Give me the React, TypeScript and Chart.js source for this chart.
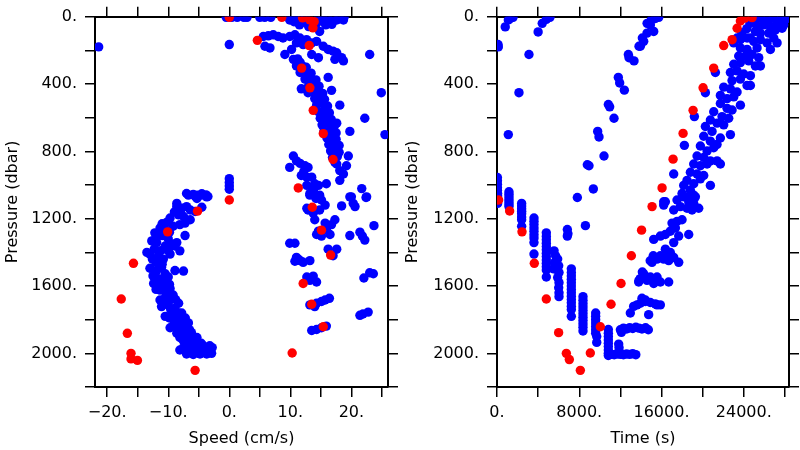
import React, { useEffect, useRef } from "react";
import { Chart, registerables } from "chart.js";

Chart.register(...registerables);

const FONT = "'DejaVu Sans', sans-serif";

// ---------- tick values ----------
const speedTicks = [-20, -15, -10, -5, 0, 5, 10, 15, 20, 25];
const speedLabelled = [-20, -10, 0, 10, 20];
const timeTicks = [0, 4000, 8000, 12000, 16000, 20000, 24000, 28000];
const timeLabelled = [0, 8000, 16000, 24000];
const pressureTicks = [0, 200, 400, 600, 800, 1000, 1200, 1400, 1600, 1800, 2000, 2200];
const pressureLabelled = [0, 400, 800, 1200, 1600, 2000];

// ---------- Left panel: Speed (cm/s) vs Pressure (dbar) ----------
const speedRed: [number, number][] = [
  [0, 3], [8.6, 3], [12.0, 6], [13.2, 19], [13.9, 29], [13.7, 66], [4.6, 140], [13.1, 171],
  [11.85, 305], [13.2, 422], [13.75, 556], [15.4, 694], [17.0, 848], [11.3, 1017], [0.0, 1089],
  [13.6, 1132], [-5.2, 1155], [15.1, 1268], [-10.1, 1278], [16.6, 1416], [-15.7, 1465],
  [12.1, 1585], [-17.7, 1677], [13.5, 1708], [15.4, 1842], [-16.7, 1881], [10.3, 1998],
  [-16.1, 2000], [-16.1, 2033], [-15.05, 2042], [-5.6, 2101],
];

const speedBlueTop: [number, number][] = [
  [-0.5, 3], [0.4, 3], [1.3, 3], [2.4, 3], [2.9, 3], [5.0, 3], [5.8, 3], [6.8, 3], [9.9, 3],
  [10.6, 3], [11.3, 5], [12.5, 5], [14.6, 3], [15.3, 5], [16.1, 3], [17.0, 3], [18.0, 5], [18.8, 3],
  [9.9, 19], [11.0, 19], [12.1, 29], [14.3, 39], [15.4, 29], [16.5, 29], [17.6, 19], [18.7, 19],
  [10.6, 29], [12.7, 39], [14.8, 87], [13.0, 58], [15.8, 48], [16.8, 45], [11.5, 48],
];

const speedBlueUpper: [number, number][] = [
  [5.57, 117], [6.39, 113], [7.2, 107], [8.0, 117], [8.8, 126], [9.9, 117], [10.75, 107],
  [11.57, 126], [12.66, 136], [13.48, 155], [14.3, 146], [15.4, 175], [16.2, 194], [17.0, 204],
  [17.6, 214], [5.84, 175], [6.66, 185], [9.1, 224], [10.2, 194], [11.0, 155], [12.1, 165],
  [13.5, 224], [14.6, 243], [17.3, 253], [18.4, 243], [18.7, 262], [0.0, 165], [-21.4, 179],
  [23.0, 224], [24.9, 451], [25.5, 700], [22.2, 603], [19.75, 681],
];

const speedBlueBand: [number, number][] = [
  [10.5, 253], [11.2, 250], [11.6, 270], [11.0, 292], [11.9, 290], [12.6, 300], [11.6, 331],
  [12.5, 320], [13.4, 335], [12.4, 370], [13.3, 360], [14.2, 375], [13.0, 408], [13.9, 400],
  [14.7, 412], [13.8, 447], [14.6, 440], [15.3, 455], [14.0, 486], [14.9, 480], [15.6, 490],
  [14.3, 525], [15.2, 515], [16.1, 530], [14.6, 564], [15.5, 560], [16.4, 570], [14.9, 603],
  [15.8, 595], [16.7, 610], [15.2, 642], [16.2, 635], [17.2, 650], [15.5, 681], [16.5, 675],
  [17.5, 690], [16.0, 720], [16.8, 712], [17.5, 728], [16.3, 759], [17.2, 752], [18.0, 765],
  [16.6, 797], [17.4, 790], [18.0, 805], [16.9, 836], [17.7, 830], [17.3, 865],
  [11.8, 428], [12.9, 451], [16.2, 360], [16.75, 437], [18.1, 525], [17.6, 632],
  [19.5, 827], [19.2, 885], [18.1, 914],
];

const speedBlueLower: [number, number][] = [
  [10.5, 827], [11.0, 856], [11.6, 871], [9.9, 895], [12.4, 885], [12.9, 895], [11.8, 943],
  [12.7, 953], [13.5, 953], [14.0, 992], [14.6, 1002], [12.7, 1002], [15.9, 992], [13.2, 1050],
  [14.8, 1060], [18.7, 934], [18.1, 972], [20.0, 1070], [21.7, 1021], [22.5, 1070], [17.6, 875],
  [12.2, 920], [13.8, 1030], [14.2, 1080],
  [13.2, 1060], [14.3, 1070], [15.1, 1089], [15.7, 1119], [14.8, 1148], [13.75, 1167],
  [12.9, 1148], [14.0, 1206], [12.7, 1138], [19.75, 1070], [20.3, 1109], [20.6, 1128],
  [22.4, 1074], [18.4, 1124], [15.7, 1226], [16.75, 1235], [17.3, 1206], [15.9, 1264],
  [16.5, 1294], [15.1, 1303], [14.3, 1294], [14.6, 1274], [19.75, 1300], [21.4, 1280],
  [21.8, 1303], [22.2, 1327], [23.7, 1241], [9.9, 1346], [10.75, 1346], [16.2, 1381],
  [17.6, 1381], [17.0, 1420], [11.0, 1430], [10.75, 1453], [11.6, 1449], [12.1, 1459],
  [13.2, 1449], [11.3, 1440], [12.7, 1546], [13.75, 1541], [14.3, 1576], [13.2, 1566],
  [22.05, 1552], [23.0, 1521], [23.6, 1527], [13.2, 1712], [14.3, 1702], [15.1, 1692],
  [15.7, 1683], [16.4, 1673], [14.0, 1722], [21.4, 1774], [21.9, 1766], [22.75, 1755],
  [13.5, 1864], [14.3, 1858], [15.1, 1848], [15.9, 1838],
];

const speedBlueArc: [number, number][] = [
  [0.0, 962], [0.0, 985], [0.0, 1005], [0.0, 1025],
  [-7.0, 1050], [-5.9, 1055], [-5.2, 1060], [-4.5, 1052], [-3.8, 1058], [-3.5, 1068], [-8.6, 1109],
  [-6.7, 1060], [-5.6, 1066], [-4.5, 1060], [-3.7, 1070], [-5.3, 1080],
  [-8.6, 1128], [-7.8, 1138], [-7.0, 1128], [-6.4, 1148], [-5.6, 1157], [-4.5, 1132],
  [-9.7, 1196], [-8.3, 1177], [-7.5, 1187], [-6.4, 1206],
  [-11.35, 1255], [-12.2, 1284], [-10.5, 1264], [-9.2, 1245], [-8.1, 1235], [-7.25, 1226],
  [-12.7, 1332], [-11.9, 1342], [-10.5, 1362], [-9.4, 1352], [-8.6, 1342], [-8.1, 1391], [-7.25, 1300],
  [-13.0, 1410], [-11.6, 1420], [-10.8, 1440], [-9.7, 1410], [-8.9, 1362],
  [-13.0, 1494], [-11.9, 1508], [-11.1, 1488], [-10.5, 1527], [-8.9, 1508], [-7.5, 1511],
  [-12.4, 1585], [-11.6, 1556], [-10.5, 1566], [-10.0, 1546],
  [-11.35, 1624], [-10.5, 1634], [-9.7, 1615], [-9.2, 1653], [-11.35, 1683],
  [-11.1, 1722], [-10.0, 1712], [-8.9, 1731], [-8.3, 1702],
  [-10.5, 1780], [-9.4, 1770], [-8.6, 1790], [-7.8, 1760],
  [-9.7, 1848], [-8.6, 1838], [-7.5, 1828], [-6.7, 1819], [-8.1, 1867],
  [-8.1, 1906], [-7.0, 1887], [-6.2, 1877], [-5.3, 1906], [-7.25, 1945],
  [-7.5, 1965], [-6.4, 1945], [-5.3, 1965], [-4.25, 1955], [-3.2, 1955],
  [-7.0, 2004], [-5.9, 2007], [-4.8, 2004], [-3.7, 2004], [-2.9, 2000], [-6.4, 1984],
  [-12.0, 1460], [-11.0, 1470], [-12.5, 1540], [-11.2, 1600], [-10.2, 1650], [-10.0, 1690],
  [-9.6, 1740], [-9.0, 1800], [-8.0, 1810], [-7.6, 1850], [-6.8, 1900], [-6.0, 1930],
  [-5.0, 1985], [-4.2, 1990], [-2.8, 1966], [-9.8, 1590], [-8.8, 1680], [-8.3, 1760],
  [-7.2, 1790], [-6.5, 1860], [-5.6, 1920], [-4.6, 1940], [-13.5, 1400], [-12.6, 1440],
  [-9.0, 1160], [-8.0, 1165], [-10.2, 1220], [-11.0, 1230], [-12.0, 1310], [-11.0, 1300],
  [-10.0, 1320], [-9.8, 1280], [-12.3, 1380], [-11.2, 1390], [-10.0, 1390], [-12.0, 1620],
  [-10.8, 1600], [-10.8, 1680], [-9.6, 1680], [-9.8, 1790], [-9.1, 1830], [-8.6, 1880],
  [-7.6, 1920], [-6.2, 1960], [-8.1, 1980], [-5.2, 1940], [-4.0, 1975], [-3.4, 1985],
];

// ---------- Right panel: Time (s) vs Pressure (dbar) ----------
const timeRed: [number, number][] = [
  [24807, 5], [24100, 8], [23672, 25], [23352, 68], [22866, 136], [22049, 171], [21076, 305],
  [20044, 422], [19071, 556], [18098, 693], [17125, 846], [16055, 1017], [15082, 1128],
  [14060, 1268], [13068, 1420], [12065, 1585], [11092, 1708], [10051, 1842], [9078, 1998],
  [8105, 2101], [7035, 2037], [6743, 2000], [5994, 1877], [4797, 1677], [3629, 1465],
  [2432, 1278], [1229, 1154], [156, 1089],
];

const timeBlueEarly: [number, number][] = [
  [800, 60], [1100, 19], [1300, 10], [1560, 3], [4000, 90], [4400, 39], [4800, 15], [5150, 3],
  [127, 179], [100, 165], [3110, 224], [2137, 451], [1100, 700],
  [40, 955], [40, 975], [40, 995], [40, 1015], [40, 1031],
  [60, 1050], [60, 1065], [60, 1080], [60, 1095], [60, 1109],
  [1165, 1040], [1165, 1055], [1165, 1070], [1165, 1085], [1165, 1100], [1165, 1115], [1165, 1128],
  [2397, 1109], [2397, 1125], [2397, 1140], [2397, 1155], [2397, 1170], [2397, 1190], [2397, 1206], [2397, 1245],
  [3597, 1196], [3597, 1215], [3597, 1235], [3597, 1255], [3597, 1275], [3597, 1295], [3597, 1315], [3597, 1342], [3597, 1410],
  [4797, 1284], [4797, 1305], [4797, 1325], [4797, 1345], [4797, 1365], [4797, 1385], [4797, 1405],
  [4797, 1425], [4797, 1445], [4797, 1465], [4797, 1485], [4797, 1505], [4797, 1546],
  [5550, 1391], [5700, 1420], [5600, 1460], [5900, 1440], [6000, 1480], [5750, 1500], [6030, 1520],
  [5900, 1550], [6030, 1580], [6000, 1610], [6030, 1640], [6030, 1663], [5510, 1498], [5650, 1470],
  [6840, 1264], [6900, 1290], [6840, 1303],
  [7229, 1498], [7229, 1520], [7229, 1540], [7229, 1560], [7229, 1580], [7229, 1600], [7229, 1620],
  [7229, 1640], [7229, 1660], [7229, 1680], [7229, 1700], [7229, 1720], [7229, 1740], [7229, 1780],
  [8364, 1663], [8364, 1685], [8364, 1705], [8364, 1725], [8364, 1745], [8364, 1765], [8364, 1785],
  [8364, 1805], [8364, 1825], [8364, 1845], [8364, 1867],
  [9596, 1760], [9596, 1780], [9596, 1800], [9596, 1820], [9596, 1840], [9596, 1860], [9596, 1880],
  [9700, 1900], [9700, 1935],
  [10829, 1858], [10829, 1880], [10829, 1900], [10829, 1920], [10829, 1940], [10829, 1960],
  [10829, 1980], [10829, 2000], [10829, 2013],
];

const timeBlueMiddle: [number, number][] = [
  [15403, 10], [15730, 3], [15000, 20], [14916, 48], [14600, 39], [14592, 97], [14267, 146],
  [15240, 87], [13943, 175], [13812, 175], [14137, 126], [12774, 224], [12840, 243], [13326, 262],
  [11800, 360], [11931, 393], [12385, 436], [10829, 521], [10958, 535], [11380, 603], [9791, 681],
  [9920, 714], [10407, 827], [8786, 879], [8948, 885], [9369, 1023], [7813, 1074], [8600, 1241],
];

const timeBlueRise: [number, number][] = [
  [11100, 2005], [11400, 2008], [11700, 2004], [12000, 2006], [12300, 2008], [12600, 2004],
  [12900, 2006], [13200, 2002], [13500, 2008], [11833, 1945], [11867, 1965], [11867, 1985],
  [12000, 1860], [12300, 1850], [12600, 1855], [12900, 1848], [13200, 1852], [13500, 1845],
  [13800, 1850], [14100, 1855], [14450, 1848], [14720, 1860], [12100, 1875],
  [12968, 1760], [13290, 1721], [13940, 1702], [14425, 1692], [14914, 1698], [15400, 1706],
  [15886, 1712], [14750, 1770], [13617, 1712], [14100, 1673], [14430, 1683], [15565, 1712],
  [14267, 1527], [14916, 1546], [15565, 1546], [15889, 1576], [16700, 1576], [15240, 1585],
  [14592, 1566], [13943, 1556], [13779, 1576], [13812, 1566], [14137, 1517],
  [15889, 1420], [16375, 1381], [16862, 1401], [17186, 1430], [16700, 1449], [15565, 1440],
  [15078, 1459], [17673, 1459], [16213, 1440], [16537, 1410], [14900, 1450], [15200, 1420],
  [17024, 1226], [17510, 1216], [17997, 1206], [17348, 1255], [16862, 1274], [16375, 1294],
  [15889, 1303], [15240, 1323], [17673, 1303], [18646, 1294], [17186, 1342],
  [16213, 1119], [17186, 1148], [17835, 1128], [18159, 1070], [18808, 1080], [19294, 1070],
  [19618, 1138], [18970, 1148], [18484, 1138], [18646, 1099], [19130, 1109],
];

const timeBlueBand: [number, number][] = [
  [24970, 19], [25618, 10], [26266, 19], [26915, 10], [27564, 19], [28213, 10], [25293, 58],
  [25942, 48], [26591, 58], [27240, 39], [27888, 48], [25131, 87], [25618, 97], [26429, 97],
  [27078, 78], [27726, 68], [24645, 126],
  [23672, 136], [24321, 126], [24970, 146], [25618, 136], [26266, 155], [26915, 126], [23672, 185],
  [24321, 194], [25294, 185], [26591, 194], [27240, 155], [23510, 233], [24159, 233], [24808, 224],
  [25456, 243], [23024, 282], [23672, 272], [24483, 262], [25132, 292], [25618, 292], [22700, 331],
  [23348, 321], [23997, 340], [24646, 350], [22862, 379], [23672, 370], [24321, 408], [22051, 418],
  [22700, 428], [23348, 447], [24646, 408], [21726, 467], [22375, 486], [23024, 476], [23672, 525],
  [21726, 515], [22375, 544], [22862, 554], [21078, 564], [21888, 593], [22537, 603], [20753, 613],
  [21402, 632], [22051, 642], [22700, 700], [20267, 652], [20916, 681], [21726, 720], [20105, 710],
  [20753, 739], [21402, 759], [19780, 768], [20429, 797], [21078, 778], [19456, 827], [20105, 836],
  [20753, 856], [19132, 875], [19780, 885], [20429, 875], [21726, 875], [18808, 924], [19456, 934],
  [20105, 943], [18483, 972], [19132, 992], [19780, 963], [18159, 1002], [18808, 1031], [20753, 1002],
  [17997, 1050], [18483, 1070], [19132, 1060], [17510, 1089], [16375, 1099], [21402, 856],
  [21240, 331], [20267, 451], [19197, 593], [18224, 764], [17186, 934], [16213, 1099],
  [23348, 126], [23024, 155], [23800, 95], [24300, 70], [24600, 40],
];

// ---------- chart builder ----------
type Pt = [number, number];

const toXY = (arr: Pt[]) => arr.map(([x, y]) => ({ x, y }));

function fitSize(size: number) {
  return (scale: any) => {
    if (scale.isHorizontal()) scale.height = size;
    else scale.width = size;
  };
}

function setTicks(values: number[]) {
  return (scale: any) => {
    scale.ticks = values.map((value) => ({ value }));
  };
}

const tickGrid = {
  display: true,
  drawOnChartArea: false,
  drawTicks: true,
  tickLength: 10,
  color: "#000000",
  lineWidth: 1.5,
};
const border = { display: true, color: "#000000", width: 2 };

function fmt(v: number) {
  const r = Math.round(v);
  return (r < 0 ? "\u2212" + Math.abs(r) : String(r)) + ".";
}

function buildConfig(
  blue: Pt[],
  red: Pt[],
  xMin: number,
  xMax: number,
  xTicks: number[],
  xLabelled: number[],
  xTitle: string,
  leftW: number,
  rightW: number
): any {
  return {
    type: "scatter",
    data: {
      datasets: [
        { data: toXY(red), backgroundColor: "#ff0000", borderWidth: 0, pointRadius: 4.7, clip: 0 },
        { data: toXY(blue), backgroundColor: "#0000ff", borderWidth: 0, pointRadius: 4.7, clip: 0 },
      ],
    },
    options: {
      responsive: false,
      animation: false,
      events: [],
      layout: { padding: 0 },
      plugins: { legend: { display: false }, tooltip: { enabled: false } },
      scales: {
        x: {
          type: "linear",
          position: "bottom",
          min: xMin,
          max: xMax,
          afterBuildTicks: setTicks(xTicks),
          afterFit: fitSize(63),
          grid: tickGrid,
          border,
          ticks: {
            autoSkip: false,
            maxRotation: 0,
            padding: 7,
            color: "#000",
            font: { family: FONT, size: 16, lineHeight: 1.1 },
            callback: (v: number) => (xLabelled.includes(Math.round(v)) ? fmt(v) : ""),
          },
          title: {
            display: true,
            text: xTitle,
            color: "#000",
            font: { family: FONT, size: 16, lineHeight: 1.2 },
            padding: { top: 0, bottom: 2 },
          },
        },
        x2: {
          type: "linear",
          position: "top",
          min: xMin,
          max: xMax,
          afterBuildTicks: setTicks(xTicks),
          afterFit: fitSize(10),
          grid: tickGrid,
          border,
          ticks: { display: false },
        },
        y: {
          type: "linear",
          position: "left",
          min: 0,
          max: 2200,
          reverse: true,
          afterBuildTicks: setTicks(pressureTicks),
          afterFit: fitSize(leftW),
          grid: tickGrid,
          border,
          ticks: {
            autoSkip: false,
            padding: 8,
            color: "#000",
            font: { family: FONT, size: 16, lineHeight: 1.1 },
            callback: (v: number) => (pressureLabelled.includes(Math.round(v)) ? fmt(v) : ""),
          },
          title: {
            display: true,
            text: "Pressure (dbar)",
            color: "#000",
            font: { family: FONT, size: 16, lineHeight: 1.2 },
            padding: { top: 3, bottom: 0 },
          },
        },
        y2: {
          type: "linear",
          position: "right",
          min: 0,
          max: 2200,
          reverse: true,
          afterBuildTicks: setTicks(pressureTicks),
          afterFit: fitSize(rightW),
          grid: tickGrid,
          border,
          ticks: { display: false },
        },
      },
    },
  };
}

function Panel(props: { cfg: () => any; left: number }) {
  const ref = useRef<HTMLCanvasElement | null>(null);
  useEffect(() => {
    if (!ref.current) return;
    const chart = new Chart(ref.current, props.cfg());
    return () => chart.destroy();
  }, []);
  return (
    <canvas
      ref={ref}
      width={400}
      height={450}
      style={{ position: "absolute", left: props.left, top: 0, width: 400, height: 450, display: "block" }}
    />
  );
}

export default function App() {
  const leftBlue: Pt[] = [
    ...speedBlueTop,
    ...speedBlueUpper,
    ...speedBlueBand,
    ...speedBlueLower,
    ...speedBlueArc,
  ];
  const rightBlue: Pt[] = [...timeBlueEarly, ...timeBlueMiddle, ...timeBlueRise, ...timeBlueBand];
  return (
    <div
      style={{
        position: "fixed",
        left: 0,
        top: 0,
        width: 800,
        height: 450,
        background: "#ffffff",
        overflow: "hidden",
      }}
    >
      <Panel
        left={0}
        cfg={() =>
          buildConfig(leftBlue, speedRed, -22, 26, speedTicks, speedLabelled, "Speed (cm/s)", 95, 12)
        }
      />
      <Panel
        left={400}
        cfg={() =>
          buildConfig(rightBlue, timeRed, 0, 28400, timeTicks, timeLabelled, "Time (s)", 97, 11)
        }
      />
    </div>
  );
}
